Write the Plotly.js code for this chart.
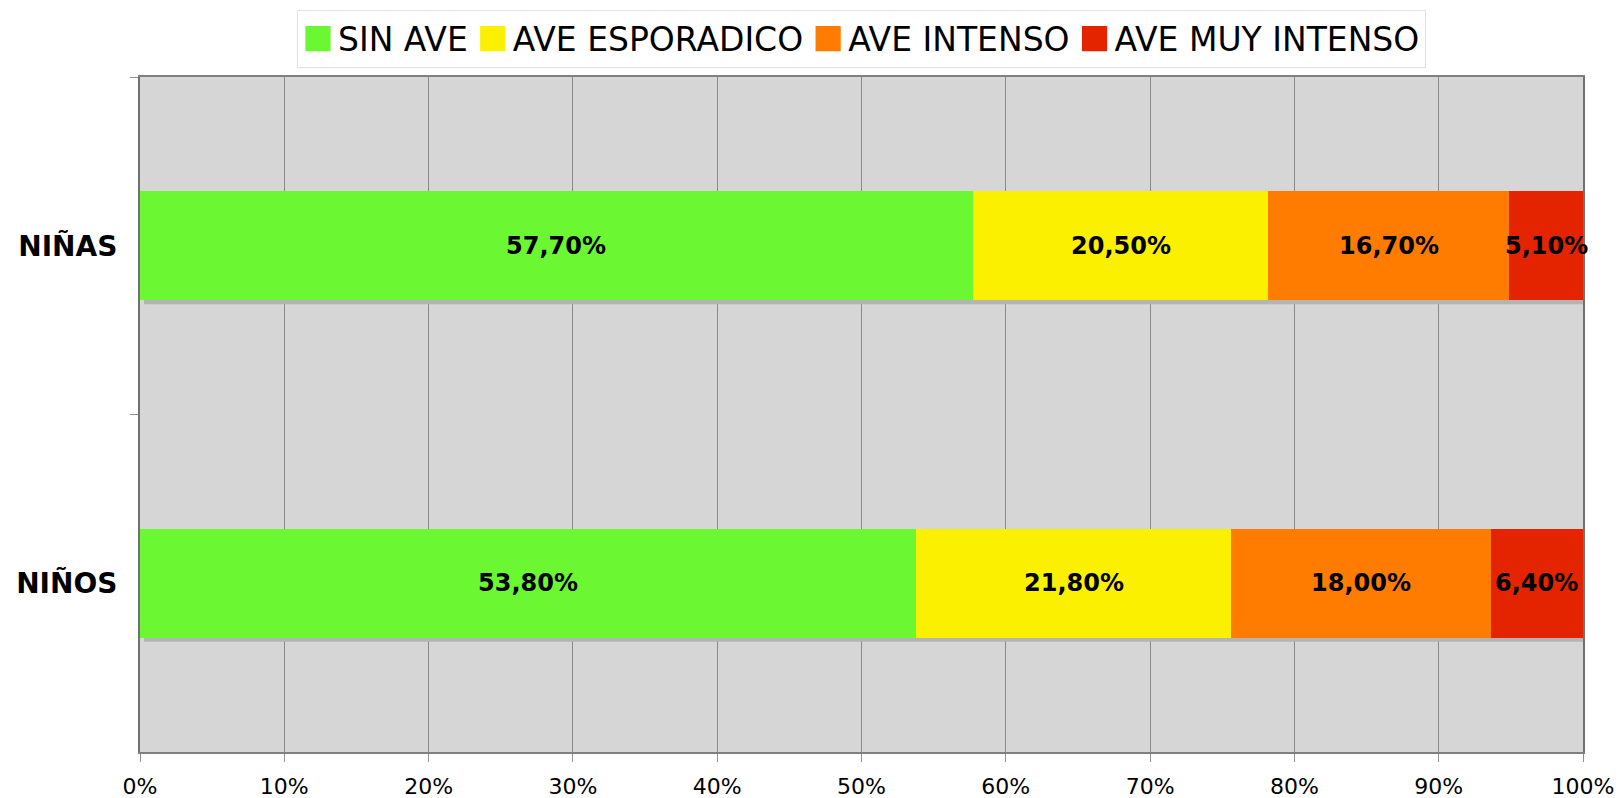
<!DOCTYPE html>
<html>
<head>
<meta charset="utf-8">
<script src="https://cdn.plot.ly/plotly-3.0.1.min.js"></script>
<style>
html,body{margin:0;padding:0;background:#fff;}
#chart{width:1621px;height:798px;}
.legend .legendpoints path{transform:translate(20px,0px) scale(2.1);}
</style>
</head>
<body>
<div id="chart"></div>
<script>
// ---- data ----
const categories = ['NIÑAS', 'NIÑOS'];
const seriesNames = ['SIN AVE', 'AVE ESPORADICO', 'AVE INTENSO', 'AVE MUY INTENSO'];
const sinAve = [57.7, 53.8];
const aveEsporadico = [20.5, 21.8];
const aveIntenso = [16.7, 18.0];
const aveMuyIntenso = [5.1, 6.4];
const xTickValues = [0, 10, 20, 30, 40, 50, 60, 70, 80, 90, 100];
const xTickLabels = ['0%', '10%', '20%', '30%', '40%', '50%', '60%', '70%', '80%', '90%', '100%'];

// ---- styles ----
const colors = ['#6BF732', '#FAF000', '#FF7C00', '#E42400'];
const barWidth = 0.323;
const font = 'DejaVu Sans, Verdana, sans-serif';

const seriesValues = [sinAve, aveEsporadico, aveIntenso, aveMuyIntenso];

const traces = seriesValues.map((vals, i) => ({
  type: 'bar',
  orientation: 'h',
  name: seriesNames[i],
  y: categories,
  x: vals,
  width: barWidth,
  marker: {color: colors[i], line: {width: 0}},
  hoverinfo: 'name+x'
}));

const fmt = v => v.toFixed(2).replace('.', ',') + '%';

// data labels centered in each segment
const annotations = [];
categories.forEach((cat, ci) => {
  let start = 0;
  seriesValues.forEach(vals => {
    const v = vals[ci];
    annotations.push({
      x: start + v / 2, y: cat, xref: 'x', yref: 'y',
      text: '<b>' + fmt(v) + '</b>', showarrow: false,
      font: {family: font, size: 24, color: '#000'}
    });
    start += v;
  });
});

// drop shadow under each stacked bar
const dxShadow = 0.28, dyShadow = 0.012;
const shapes = categories.map((cat, ci) => {
  const total = seriesValues.reduce((s, vals) => s + vals[ci], 0);
  return {
    type: 'rect', xref: 'x', yref: 'y', layer: 'between',
    x0: 0 + dxShadow, x1: total + dxShadow,
    y0: ci - barWidth / 2 + dyShadow, y1: ci + barWidth / 2 + dyShadow,
    fillcolor: '#B4B4B4', line: {width: 0}
  };
});

const layout = {
  width: 1621, height: 798,
  margin: {l: 140, r: 38, t: 77, b: 46},
  paper_bgcolor: '#FFFFFF',
  plot_bgcolor: '#D6D6D6',
  barmode: 'stack',
  showlegend: true,
  legend: {
    orientation: 'h', x: 0.5, xanchor: 'center', y: 0.988, yanchor: 'top',
    yref: 'container',
    font: {family: font, size: 33, color: '#000'},
    bgcolor: '#FFFFFF', bordercolor: '#E2E2E2', borderwidth: 1,
    itemgap: 16, traceorder: 'normal'
  },
  xaxis: {
    range: [0, 100], tickvals: xTickValues, ticktext: xTickLabels,
    showgrid: true, gridcolor: '#8A8A8A', gridwidth: 1,
    showline: true, linecolor: '#808080', linewidth: 2, mirror: true,
    ticks: 'outside', ticklen: 8, tickcolor: '#909090', tickwidth: 1,
    tickfont: {family: font, size: 22, color: '#000'},
    ticklabelstandoff: 6,
    zeroline: false, fixedrange: true
  },
  yaxis: {
    type: 'category', categoryorder: 'array', categoryarray: categories,
    range: [1.5, -0.5],
    showgrid: false,
    showline: true, linecolor: '#707070', linewidth: 2, mirror: true,
    ticks: 'outside', tickson: 'boundaries', ticklen: 8, tickcolor: '#909090', tickwidth: 1,
    tickfont: {family: font, size: 28, color: '#000', weight: 'bold'},
    ticklabelstandoff: 15,
    zeroline: false, fixedrange: true
  },
  annotations: annotations,
  shapes: shapes
};

Plotly.newPlot('chart', traces, layout, {displayModeBar: false, staticPlot: true});
</script>
</body>
</html>
